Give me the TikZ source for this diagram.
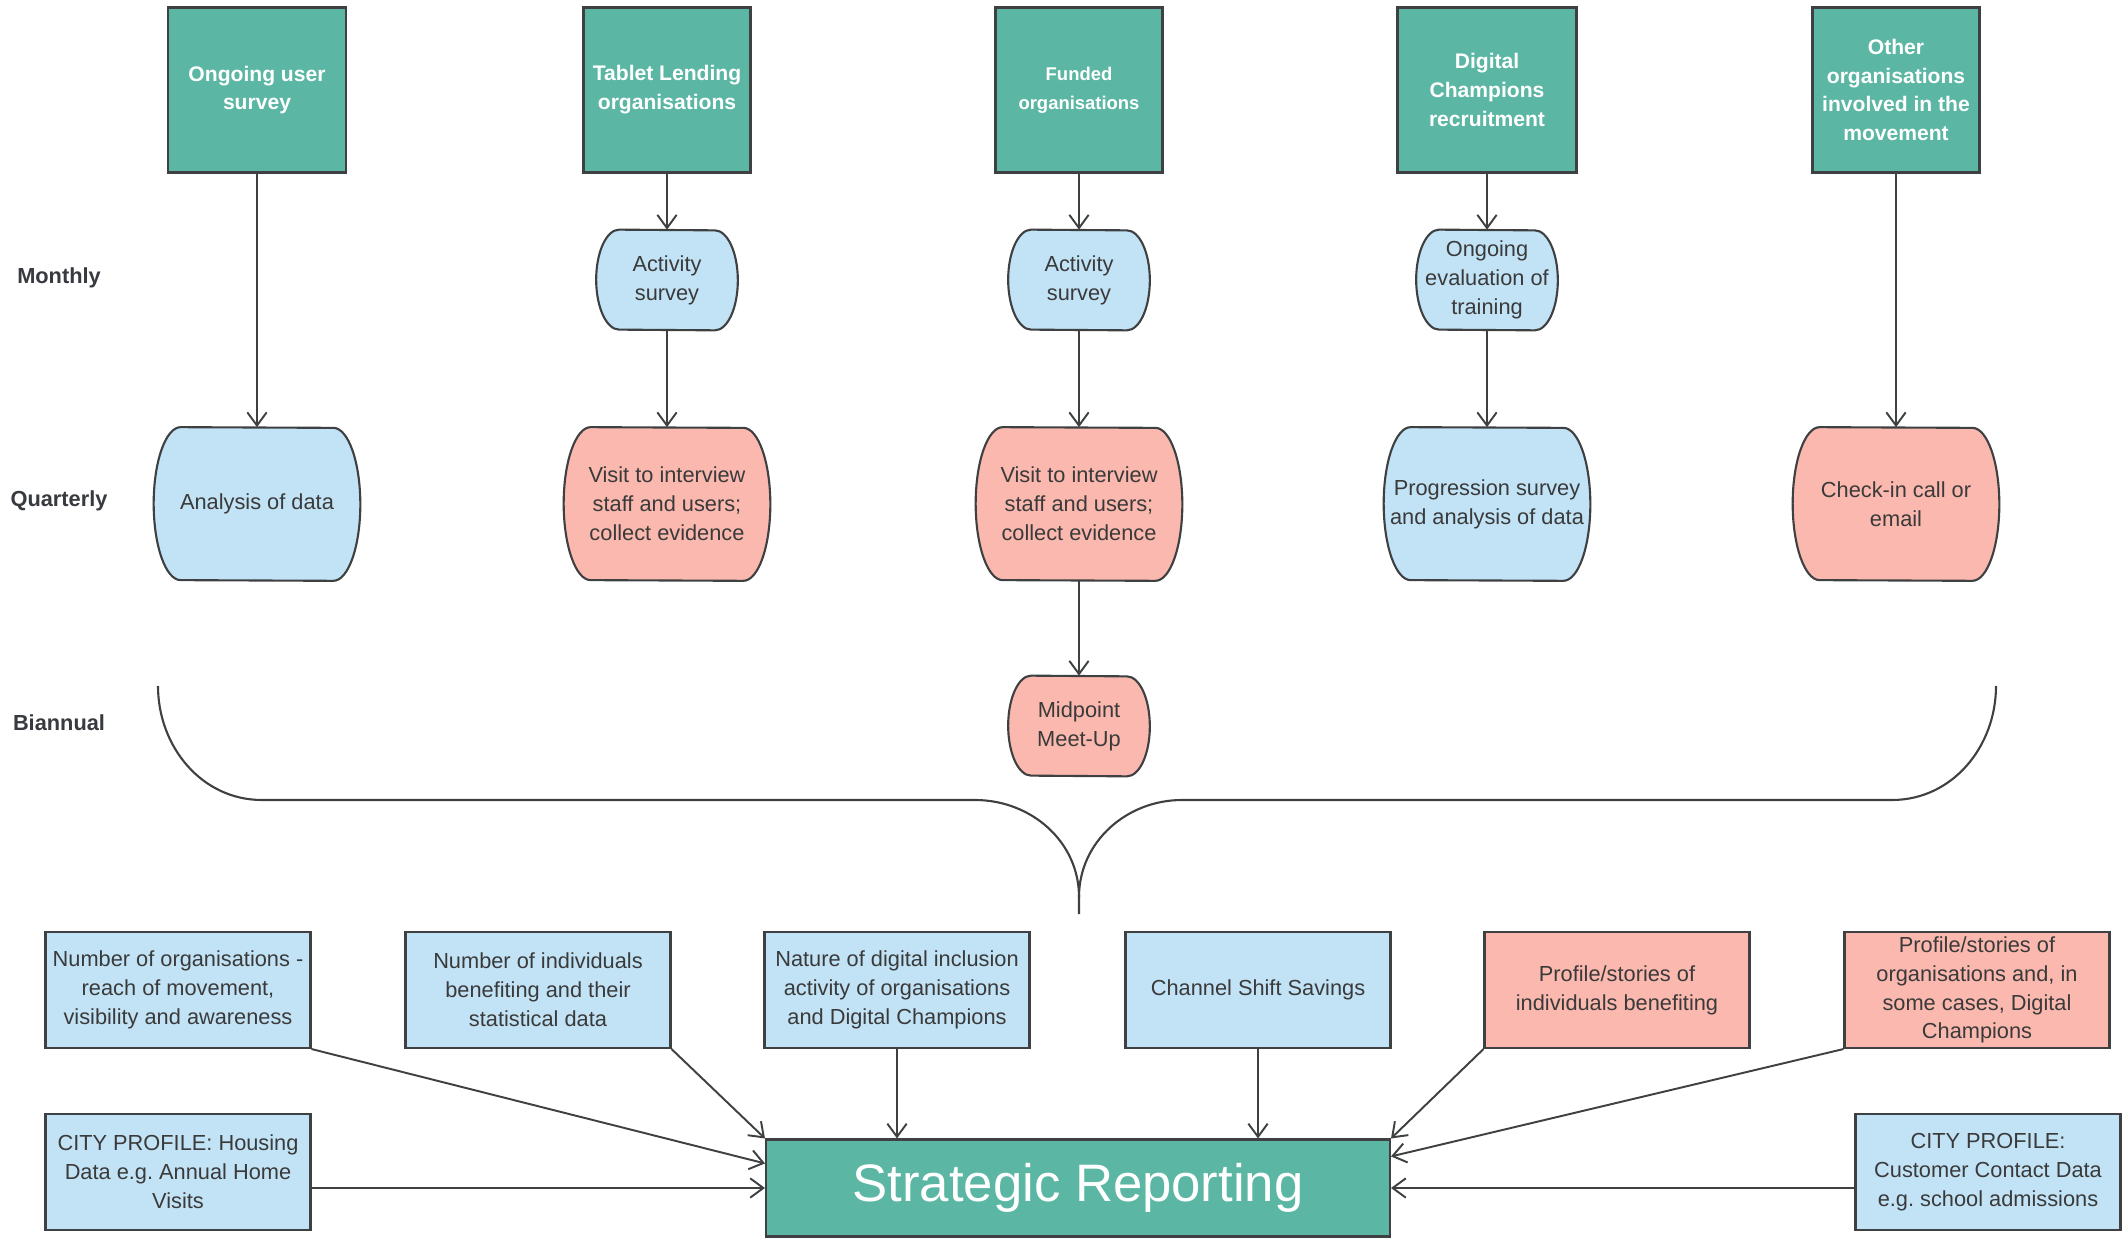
\documentclass[tikz,border=0pt]{standalone}
\usepackage{fontspec}
\setmainfont{Liberation Sans}
\usepackage{xcolor}
\usepackage{tikz}
\usetikzlibrary{arrows.meta,positioning,backgrounds}
\frenchspacing

\definecolor{boxteal}{RGB}{91,183,164}
\definecolor{boxblue}{RGB}{194,227,246}
\definecolor{boxpink}{RGB}{250,184,174}
\definecolor{edgegray}{RGB}{62,64,66}
\definecolor{txtgray}{RGB}{58,58,58}
\definecolor{labgray}{RGB}{55,58,62}

\tikzset{
  txt/.style={font=\fontsize{12.4}{16.4}\selectfont, text=txtgray, align=center},
  source/.style={draw=edgegray, line width=1.2pt, fill=boxteal, minimum width=3.34cm, minimum height=3.3cm, inner sep=2pt,
    text=white, align=center, font=\bfseries\fontsize{12}{16.4}\selectfont},
  databox/.style={txt, draw=edgegray, line width=1.2pt, fill=#1, minimum width=5.3cm, minimum height=2.32cm, inner sep=2pt},
  monthly/.style={txt, inner sep=0pt, minimum width=2.82cm, minimum height=2cm},
  quarterly/.style={txt, inner sep=0pt, minimum width=4.12cm, minimum height=3.06cm},
  barrel/.style={draw=edgegray, line width=1.2pt},
  freq/.style={font=\bfseries\fontsize{12.4}{16}\selectfont, text=labgray},
  arr/.style={draw=edgegray, line width=1.1pt, -{Straight Barb[length=7.5pt,width=11pt]}},
}

\begin{document}
\begin{tikzpicture}[x=0.02cm, y=-0.02cm]
\path[use as bounding box] (0,0) rectangle (2123,1239);

% sources
\node[source, minimum width=3.56cm] (user) at (257,90) {Ongoing user\\survey};
\node[source] (tablet) at (667,90) {Tablet Lending\\organisations};
\node[source, font=\bfseries\fontsize{10.5}{16.4}\selectfont] (funded) at (1079,90) {Funded\\organisations};
\node[source, minimum width=3.58cm] (champ) at (1487,90) {Digital\\Champions\\recruitment};
\node[source] (other) at (1896,90) {Other\\organisations\\involved in the\\movement};

% frequency labels
\node[freq] (monthly) at (59,278) {Monthly};
\node[freq] (quarter) at (59,501) {Quarterly};
\node[freq] (biannual) at (59,723) {Biannual};

% monthly
\node[monthly] (act1) at (667,280) {Activity\\survey};
\node[monthly] (act2) at (1079,280) {Activity\\survey};
\node[monthly] (evalt) at (1487,280) {Ongoing\\evaluation of\\training};

% quarterly
\node[quarterly] (anal) at (257,504) {Analysis of data};
\node[quarterly] (visit1) at (667,504) {Visit to interview\\staff and users;\\collect evidence};
\node[quarterly] (visit2) at (1079,504) {Visit to interview\\staff and users;\\collect evidence};
\node[quarterly] (progr) at (1487,504) {Progression survey\\and analysis of data};
\node[quarterly] (check) at (1896,504) {Check-in call or\\email};

% biannual
\node[monthly] (meet) at (1079,726) {Midpoint\\Meet-Up};

% barrel outlines behind the text
\begin{scope}[on background layer]
\fill[white] (0,0) rectangle (2123,1239);
\foreach \nd/\bw/\hh/\col in {act1/0.46/1/boxblue, act2/0.46/1/boxblue, evalt/0.46/1/boxblue,
    anal/0.54/1.53/boxblue, visit1/0.54/1.53/boxpink, visit2/0.54/1.53/boxpink,
    progr/0.54/1.53/boxblue, check/0.54/1.53/boxpink, meet/0.46/1/boxpink}
  \draw[barrel, fill=\col] ([xshift=\bw cm]\nd.north west)
    arc[start angle=90, end angle=270, x radius=\bw cm, y radius=\hh cm]
    -- ([xshift=-\bw cm]\nd.south east)
    arc[start angle=-90, end angle=90, x radius=\bw cm, y radius=\hh cm] -- cycle;
\end{scope}

\draw[arr] (user) -- (anal);
\draw[arr] (tablet) -- (act1);
\draw[arr] (act1) -- (visit1);
\draw[arr] (funded) -- (act2);
\draw[arr] (act2) -- (visit2);
\draw[arr] (visit2) -- (meet);
\draw[arr] (champ) -- (evalt);
\draw[arr] (evalt) -- (progr);
\draw[arr] (other) -- (check);

% brace
\draw[edgegray, line width=1.2pt] (158,686) to[out=-90,in=180] (262,800) -- (975,800)
  to[out=0,in=90] (1079,897) -- (1079,914);
\draw[edgegray, line width=1.2pt] (1079,897) to[out=90,in=180] (1182,800) -- (1892,800)
  to[out=0,in=-90] (1996,686);

% outputs
\node[databox=boxblue] (orgs) at (178,990) {Number of organisations -\\reach of movement,\\visibility and awareness};
\node[databox=boxblue] (indiv) at (538,990) {Number of individuals\\benefiting and their\\statistical data};
\node[databox=boxblue] (nature) at (897,990) {Nature of digital inclusion\\activity of organisations\\and Digital Champions};
\node[databox=boxblue] (shift) at (1258,990) {Channel Shift Savings};
\node[databox=boxpink] (storind) at (1617,990) {Profile/stories of\\individuals benefiting};
\node[databox=boxpink] (stororg) at (1977,990) {Profile/stories of\\organisations and, in\\some cases, Digital\\Champions};
\node[databox=boxblue] (housing) at (178,1172) {CITY PROFILE: Housing\\Data e.g. Annual Home\\Visits};
\node[databox=boxblue] (contact) at (1988,1172) {CITY PROFILE:\\Customer Contact Data\\e.g. school admissions};

\node[draw=edgegray, line width=1.2pt, fill=boxteal, minimum width=12.48cm, minimum height=1.94cm,
  text=white, font=\fontsize{30}{36}\selectfont] (report) at (1078,1188) {Strategic Reporting};

\draw[arr] (orgs.south east) -- ([yshift=-0.5cm]report.north west);
\draw[arr] (indiv.south east) -- (report.north west);
\draw[arr] (nature.south) -- (nature.south |- report.north);
\draw[arr] (shift.south) -- (shift.south |- report.north);
\draw[arr] (storind.south west) -- (report.north east);
\draw[arr] (stororg.south west) -- ([yshift=-0.36cm]report.north east);
\draw[arr] (housing.east |- report.west) -- (report.west);
\draw[arr] (contact.west |- report.east) -- (report.east);
\end{tikzpicture}
\end{document}
